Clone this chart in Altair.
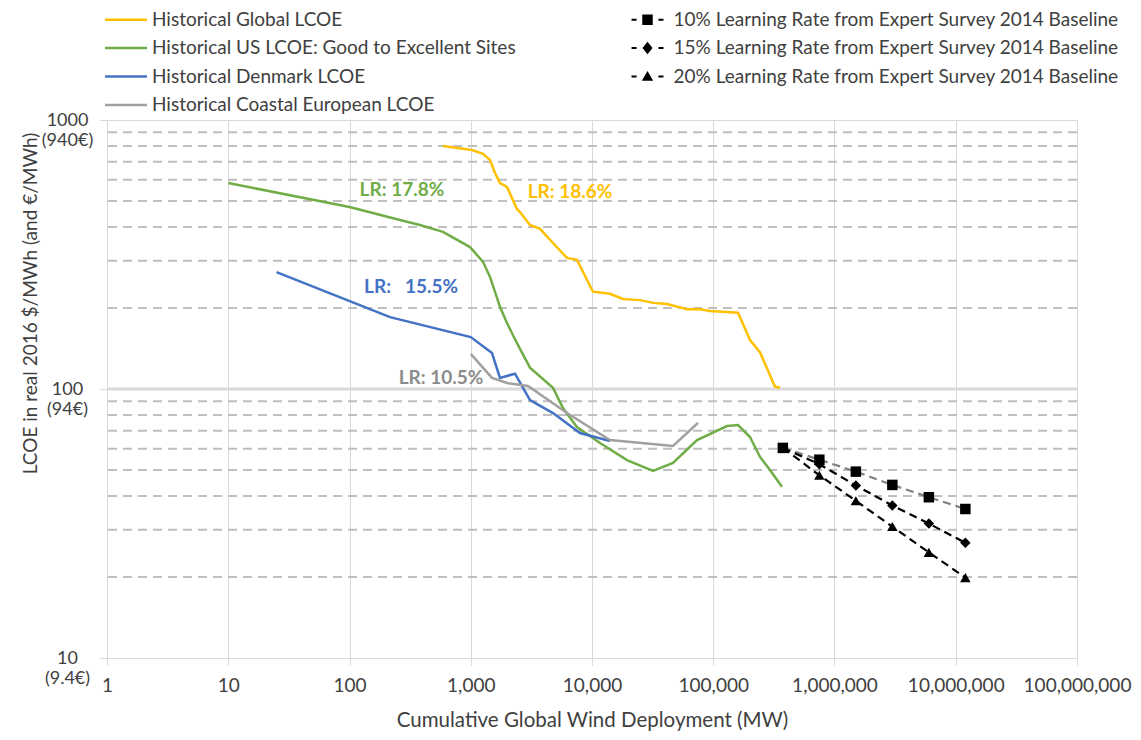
import altair as alt
import pandas as pd

FONT = "Lato"
TXT = "#404040"

# ---------------- data ----------------
glob_x = [590, 1024, 1262, 1442, 1585, 1742, 1990, 2405, 2547, 3080, 3725, 4768, 6220, 7515,
          10180, 14060, 18020, 24880, 31870, 41580, 60810, 77800, 94000, 160000, 201000,
          243000, 323000, 355000]
glob_y = [800, 773, 748, 710, 635, 583, 564, 467, 455, 407, 394, 349, 307, 302,
          230, 226, 216, 214, 209, 207, 198, 198, 195, 192, 152, 137, 102, 101]

us_x = [10, 100, 261, 381, 590, 986, 1262, 1442, 1742, 1990, 2405, 3080, 4768, 5763, 7515,
        11640, 19440, 31870, 46560, 73450, 129800, 160000, 201000, 243000, 293800, 368700]
us_y = [583, 475, 425, 407, 384, 337, 297, 261, 202, 176, 148, 120, 101, 85, 72.2,
        63.0, 54.4, 49.6, 53.1, 64.6, 72.8, 73.4, 66.3, 55.9, 50.0, 43.3]

dk_x = [25, 216, 1000, 1497, 1742, 2317, 3080, 4768, 7960, 14060]
dk_y = [272, 185, 156, 136, 110, 114, 91, 81.4, 68.6, 64.1]

eu_x = [1000, 1497, 2028, 2966, 6220, 14060, 46560, 74850]
eu_y = [135, 110, 105, 102.6, 81.4, 64.6, 61.4, 74.8]

lr_x = [375000, 750000, 1500000, 3000000, 6000000, 12000000]
lr10_y = [60.4, 54.6, 49.3, 44.0, 39.6, 35.8]
lr15_y = [60.4, 52.5, 43.8, 36.9, 31.6, 26.8]
lr20_y = [60.4, 47.8, 38.4, 30.8, 24.7, 19.9]

names = ["Historical Global LCOE",
         "Historical US LCOE: Good to Excellent Sites",
         "Historical Denmark LCOE",
         "Historical Coastal European LCOE",
         "10% Learning Rate from Expert Survey 2014 Baseline",
         "15% Learning Rate from Expert Survey 2014 Baseline",
         "20% Learning Rate from Expert Survey 2014 Baseline"]
colors = ["#FFC000", "#70AD47", "#4472C4", "#A0A0A0", "#000000", "#000000", "#000000"]
dash_colors = ["#7F7F7F", "#000000", "#000000"]
markers = ["square", "diamond", "triangle-up"]

ann_text = ["LR: 17.8%", "LR: 18.6%", "LR:\u00a0\u00a0\u00a015.5%", "LR: 10.5%"]
ann_x = [271, 6590, 322, 569]
ann_y = [550, 540, 240, 110]
ann_color = ["#70AD47", "#FFC000", "#4472C4", "#8C8C8C"]

x_ticks = [1, 10, 100, 1000, 10000, 100000, 1000000, 10000000, 100000000]
y_ticks = [10, 100, 1000]
y_tick_eur = ["(9.4€)", "(94€)", "(940€)"]
y_minor = [20, 30, 40, 50, 60, 70, 80, 90, 200, 300, 400, 500, 600, 700, 800, 900]
y_thick = [100]

# ---------------- tables ----------------
hist = []
for n, c, xs, ys in [(names[0], colors[0], glob_x, glob_y), (names[1], colors[1], us_x, us_y),
                     (names[2], colors[2], dk_x, dk_y), (names[3], colors[3], eu_x, eu_y)]:
    for a, b in zip(xs, ys):
        hist.append({"series": n, "x": a, "y": b, "color": c})
hist = pd.DataFrame(hist)

proj = []
for n, c, m, ys in zip(names[4:], dash_colors, markers, [lr10_y, lr15_y, lr20_y]):
    for a, b in zip(lr_x, ys):
        proj.append({"series": n, "x": a, "y": b, "color": c, "marker": m})
proj = pd.DataFrame(proj)

ann = pd.DataFrame({"label": ann_text, "x": ann_x, "y": ann_y, "color": ann_color})

# legend: entries fill column by column (4 rows); symbol paths drawn wider than the unit box
leg_order = names
leg_colors = colors
line_path = "M-2,-0.12H2V0.12H-2Z"
d1 = "M-1.52,-0.1H-1.04V0.1H-1.52Z "
d2 = " M1.04,-0.1H1.52V0.1H1.04Z"
sq_path = d1 + "M-0.5,-0.5H0.5V0.5H-0.5Z" + d2
di_path = d1 + "M0,-0.6L0.48,0L0,0.6L-0.48,0Z" + d2
tr_path = d1 + "M0,-0.52L0.54,0.4L-0.54,0.4Z" + d2
leg_paths = [line_path, line_path, line_path, line_path, sq_path, di_path, tr_path]
leg_df = pd.DataFrame({"series": leg_order})

# ---------------- scales & axes ----------------
xscale = alt.Scale(type="log", domain=[1, 100000000], nice=False)
yscale = alt.Scale(type="log", domain=[10, 1000], nice=False)

expr = " : ".join(
    f"datum.value == {v} ? ['{v}', '{e}']" for v, e in zip(y_ticks, y_tick_eur)
) + " : ''"

xaxis = alt.Axis(values=x_ticks, format=",", labelFontSize=19, labelColor=TXT, labelFont=FONT,
                 labelPadding=11, labelFlush=False, labelOverlap=False,
                 tickSize=7, tickColor="#D9D9D9", domain=False, grid=True, gridColor="#D9D9D9",
                 title="Cumulative Global Wind Deployment (MW)", titleFontSize=20.5,
                 titleFontWeight="normal", titleColor=TXT, titleFont=FONT,
                 titleY=62, titleBaseline="middle")
yaxis = alt.Axis(values=y_ticks, labelExpr=expr, labelAlign="center", labelBaseline="middle",
                 labelPadding=33, labelFontSize=18, labelLineHeight=20, labelColor=TXT,
                 labelFont=FONT, labelFlush=False, labelOverlap=False,
                 tickSize=7, tickColor="#D9D9D9", domain=False, grid=True, gridColor="#D9D9D9",
                 title="LCOE in real 2016 $/MWh (and €/MWh)", titleFontSize=19,
                 titleFontWeight="normal", titleColor=TXT, titleFont=FONT,
                 titleX=-77, titleY=183, titleBaseline="middle", titleAlign="center")

X = alt.X("x:Q", scale=xscale, axis=xaxis)
Y = alt.Y("y:Q", scale=yscale, axis=yaxis)

minor = alt.Chart(pd.DataFrame({"y": y_minor})).mark_rule(
    color="#BFBFBF", strokeWidth=2, strokeDash=[9, 6]).encode(y=Y)
thick = alt.Chart(pd.DataFrame({"y": y_thick})).mark_rule(
    color="#D9D9D9", strokeWidth=3).encode(y=Y)

lines = alt.Chart(hist).mark_line(strokeWidth=2.5).encode(
    x=X, y=Y, detail="series:N", color=alt.Color("color:N", scale=None))

plines = alt.Chart(proj).mark_line(strokeWidth=2.2, strokeDash=[8, 5]).encode(
    x=X, y=Y, detail="series:N", color=alt.Color("color:N", scale=None))
points = alt.Chart(proj).mark_point(filled=True, size=110, opacity=1, color="black").encode(
    x=X, y=Y, shape=alt.Shape("marker:N", scale=None))

texts = alt.Chart(ann).mark_text(font=FONT, fontSize=19, fontWeight="bold").encode(
    x=X, y=Y, text="label:N", color=alt.Color("color:N", scale=None))

leg = alt.Legend(title=None, orient="none", legendX=8.5, legendY=-111, columns=2,
                 columnPadding=114.5, rowPadding=7.5, gridAlign="each",
                 symbolSize=441, symbolStrokeWidth=0,
                 symbolOpacity=1, labelFont=FONT, labelFontSize=19, labelColor=TXT,
                 labelOffset=15.5, padding=0, labelLimit=700, direction="vertical")
legend_layer = alt.Chart(leg_df).mark_point(filled=True, opacity=0).encode(
    color=alt.Color("series:N", scale=alt.Scale(domain=leg_order, range=leg_colors), legend=leg),
    shape=alt.Shape("series:N", scale=alt.Scale(domain=leg_order, range=leg_paths), legend=leg),
)

chart = alt.layer(minor, thick, lines, plines, points, texts, legend_layer).properties(
    width=970, height=538,
    padding={"left": 99, "top": 112, "right": 56, "bottom": 82},
    autosize=alt.AutoSizeParams(type="none"),
).configure_view(stroke=None).configure(font=FONT, background="white")

chart.save("out.html", embed_options={"renderer": "svg", "actions": False})
